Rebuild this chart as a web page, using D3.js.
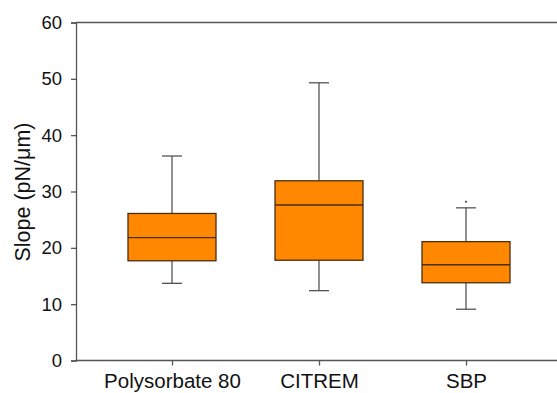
<!DOCTYPE html>
<html>
<head>
<meta charset="utf-8">
<script src="https://cdn.jsdelivr.net/npm/d3@7"></script>
<style>
  body { margin: 0; background: #fff; }
  text { font-family: "Liberation Sans", Arial, sans-serif; }
</style>
</head>
<body>
<div class="graph"></div>
<script>
// box plot data
var groups = ["Polysorbate 80", "CITREM", "SBP"];
var whiskerLow = [13.7, 12.4, 9.1];
var q1 = [17.7, 17.8, 13.8];
var median = [21.8, 27.6, 17.0];
var q3 = [26.1, 31.9, 21.1];
var whiskerHigh = [36.3, 49.3, 27.1];
var outliers = [[], [], [28.2]];
var yTicks = [0, 10, 20, 30, 40, 50, 60];

var width = 557, height = 393;
var plotLeft = 76, plotTop = 22.5, plotBottom = 360.5, plotRight = 562;

var svg = d3.select(".graph")
  .append("svg")
  .attr("width", width)
  .attr("height", height);

var x = d3.scalePoint()
  .domain(groups)
  .range([plotLeft, plotRight])
  .padding(0.653);

var y = d3.scaleLinear()
  .domain([0, 60])
  .range([plotBottom, plotTop]);

var boxHalf = 44, capHalf = 10;
var lineCol = "#555555";

var data = groups.map(function(g, i){
  return {name: g, lo: whiskerLow[i], q1: q1[i], med: median[i], q3: q3[i], hi: whiskerHigh[i], out: outliers[i]};
});

// frame
svg.append("line")
  .attr("x1", plotLeft).attr("x2", width)
  .attr("y1", y(60)).attr("y2", y(60))
  .attr("stroke", lineCol).attr("stroke-width", 1.3);

// axes
var yAxis = svg.append("g")
  .attr("transform", "translate(" + plotLeft + ",0)")
  .call(d3.axisLeft(y).tickValues(yTicks).tickSize(5).tickPadding(9));
yAxis.selectAll(".tick text").attr("font-size", "18.5px");

var xAxis = svg.append("g")
  .attr("transform", "translate(0," + plotBottom + ")")
  .call(d3.axisBottom(x).tickSize(5).tickPadding(8));
xAxis.select(".domain").attr("d", "M" + plotLeft + ",0H" + width);
xAxis.selectAll(".tick text").attr("font-size", "20.5px");

svg.selectAll(".domain, .tick line")
  .attr("stroke", lineCol)
  .attr("stroke-width", 1.3);
svg.selectAll(".tick text")
  .attr("fill", "#111");

svg.append("text")
  .attr("transform", "translate(30,192) rotate(-90)")
  .attr("text-anchor", "middle")
  .attr("font-size", "21.5px")
  .attr("fill", "#111")
  .text("Slope (pN/\u03bcm)");

var box = svg.selectAll("g.box")
  .data(data)
  .enter()
  .append("g")
  .attr("class", "box");

// whiskers
box.append("line")
  .attr("x1", function(d){ return x(d.name); })
  .attr("x2", function(d){ return x(d.name); })
  .attr("y1", function(d){ return y(d.hi); })
  .attr("y2", function(d){ return y(d.lo); })
  .attr("stroke", lineCol).attr("stroke-width", 1.3);

box.selectAll("line.cap")
  .data(function(d){ return [d.lo, d.hi].map(function(v){ return {name: d.name, v: v}; }); })
  .enter()
  .append("line")
  .attr("class", "cap")
  .attr("x1", function(d){ return x(d.name) - capHalf; })
  .attr("x2", function(d){ return x(d.name) + capHalf; })
  .attr("y1", function(d){ return y(d.v); })
  .attr("y2", function(d){ return y(d.v); })
  .attr("stroke", lineCol).attr("stroke-width", 1.3);

// boxes
box.append("rect")
  .attr("x", function(d){ return x(d.name) - boxHalf; })
  .attr("width", boxHalf * 2)
  .attr("y", function(d){ return y(d.q3); })
  .attr("height", function(d){ return y(d.q1) - y(d.q3); })
  .attr("fill", "#ff8800")
  .attr("stroke", "#4a2e12")
  .attr("stroke-width", 1.3);

box.append("line")
  .attr("x1", function(d){ return x(d.name) - boxHalf; })
  .attr("x2", function(d){ return x(d.name) + boxHalf; })
  .attr("y1", function(d){ return y(d.med); })
  .attr("y2", function(d){ return y(d.med); })
  .attr("stroke", "#4a2e12").attr("stroke-width", 1.3);

// outliers
box.selectAll("circle")
  .data(function(d){ return d.out.map(function(v){ return {name: d.name, v: v}; }); })
  .enter()
  .append("circle")
  .attr("cx", function(d){ return x(d.name); })
  .attr("cy", function(d){ return y(d.v); })
  .attr("r", 1)
  .attr("fill", "#333");
</script>
</body>
</html>
